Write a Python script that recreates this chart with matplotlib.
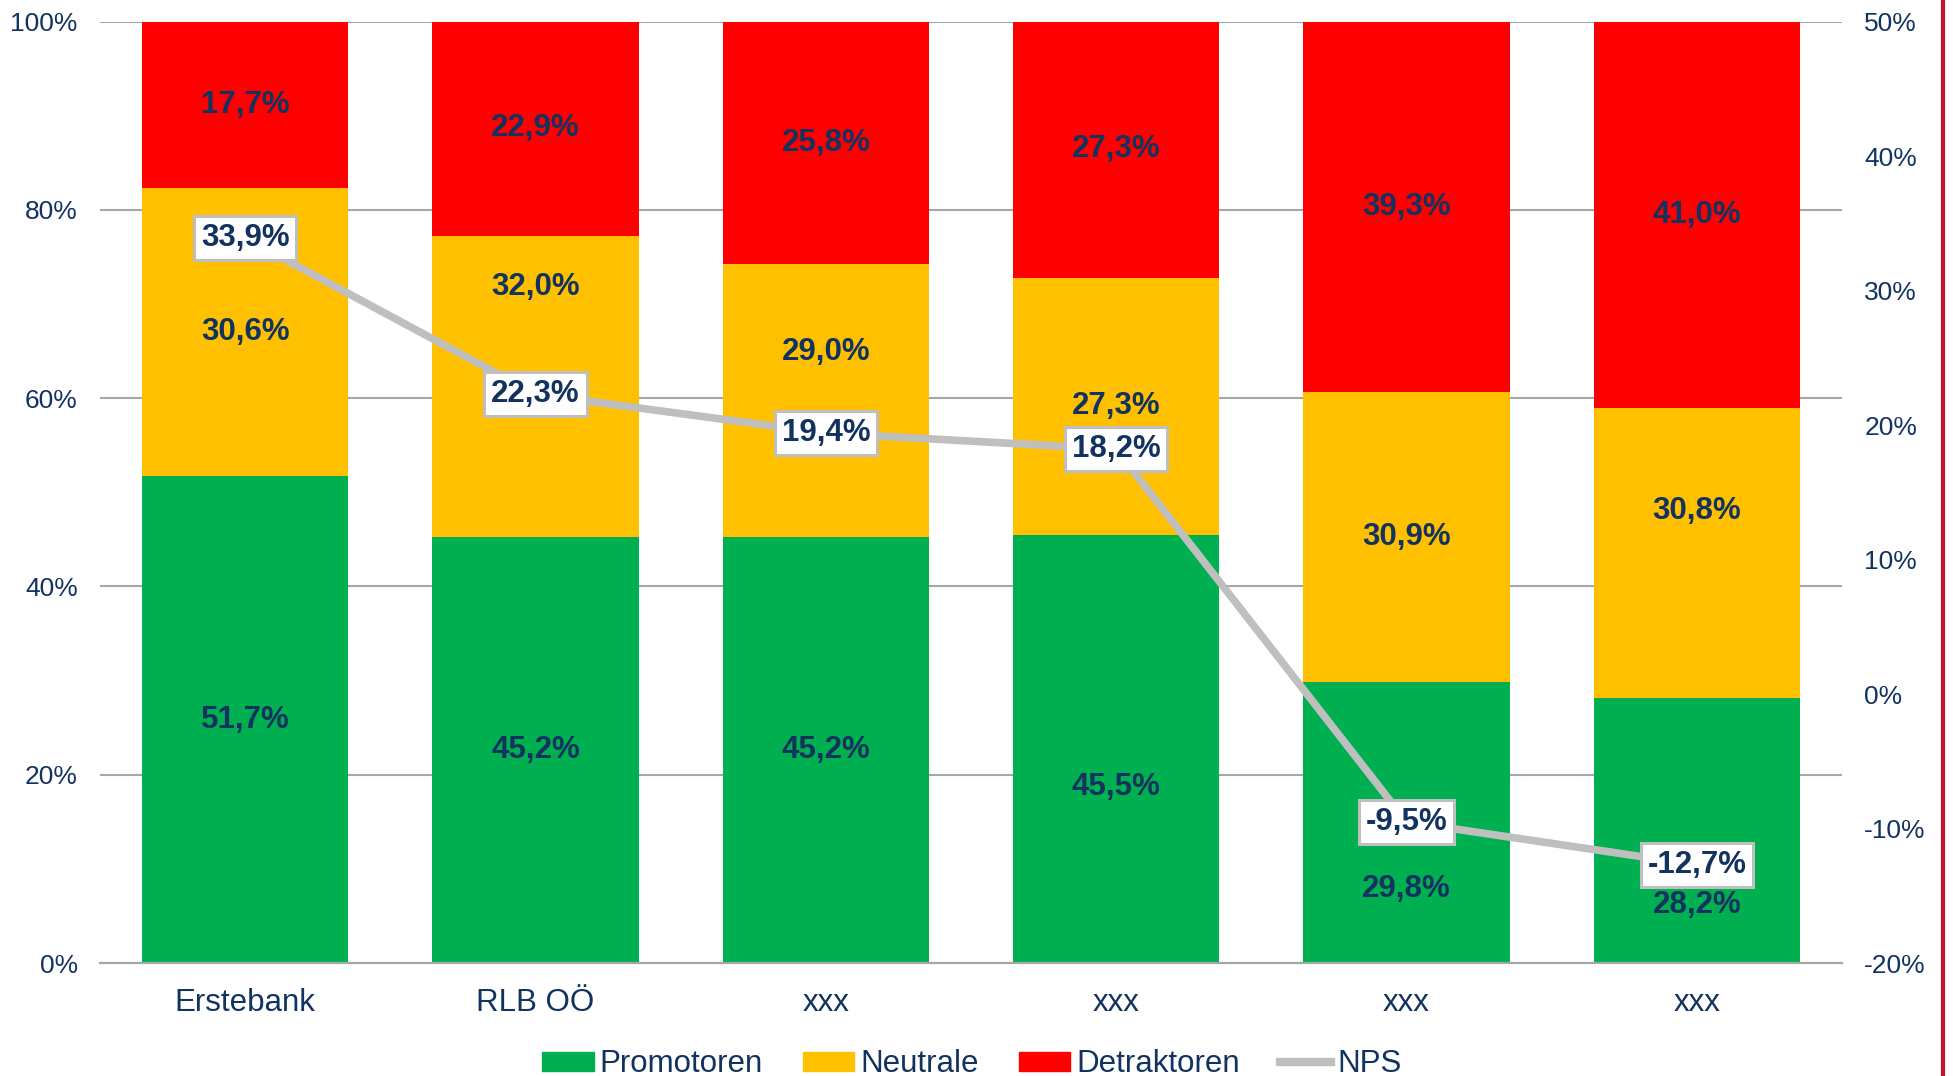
"""NPS-Vergleich: gestapelte Balken (Promotoren / Neutrale / Detraktoren) plus NPS-Linie."""
import matplotlib

matplotlib.use("Agg")
import matplotlib.pyplot as plt  # noqa: E402
from matplotlib.lines import Line2D  # noqa: E402
from matplotlib.patches import Patch  # noqa: E402
from matplotlib.ticker import FuncFormatter  # noqa: E402

# Daten
banks = ["Erstebank", "RLB OÖ", "xxx", "xxx", "xxx", "xxx"]
promotoren = [51.7, 45.2, 45.2, 45.5, 29.8, 28.2]
neutrale = [30.6, 32.0, 29.0, 27.3, 30.9, 30.8]
detraktoren = [17.7, 22.9, 25.8, 27.3, 39.3, 41.0]
nps = [33.9, 22.3, 19.4, 18.2, -9.5, -12.7]

# Farben
C_PROMO, C_NEUTRAL, C_DETRAK, C_NPS = "#00B050", "#FFC000", "#FF0000", "#BFBFBF"
TXT = "#12325F"
FONT = ["Liberation Sans", "DejaVu Sans"]

plt.rcParams["font.family"] = FONT

# Einige Label wurden im Original verschoben, damit sie nicht mit den NPS-Boxen kollidieren
promo_label_shift = [0, 0, 0, -4.1, -7.0, -7.9]
neutral_label_shift = [0, 10.6, 5.2, 0, 0, 4.4]


def pct(v):
    return f"{v:.1f}%".replace(".", ",")


fig = plt.figure(figsize=(19.53, 10.76), dpi=100)
ax = fig.add_axes([0.0512, 0.105, 0.8920, 0.875])
ax2 = ax.twinx()

x = list(range(len(banks)))
w = 0.71
ax.bar(x, promotoren, w, color=C_PROMO, zorder=2)
ax.bar(x, neutrale, w, bottom=promotoren, color=C_NEUTRAL, zorder=2)
bottom_d = [p + n for p, n in zip(promotoren, neutrale)]
ax.bar(x, detraktoren, w, bottom=bottom_d, color=C_DETRAK, zorder=2)

lbl_kw = dict(ha="center", va="center", fontsize=22.5, fontweight="bold", color=TXT)
for i in x:
    ax.text(i, promotoren[i] / 2 + promo_label_shift[i], pct(promotoren[i]), **lbl_kw)
    ax.text(i, promotoren[i] + neutrale[i] / 2 + neutral_label_shift[i], pct(neutrale[i]), **lbl_kw)
    ax.text(i, bottom_d[i] + detraktoren[i] / 2, pct(detraktoren[i]), **lbl_kw)

ax.set_xlim(-0.5, len(banks) - 0.5)
ax.set_ylim(0, 100)
ax.set_yticks(range(0, 101, 20))
ax.yaxis.set_major_formatter(FuncFormatter(lambda v, _: f"{v:.0f}%"))
ax.grid(axis="y", color="#A6A6A6", linewidth=1.5, zorder=0)
ax.set_axisbelow(True)
ax.set_xticks(x)
ax.set_xticklabels(banks)

# NPS-Linie auf der rechten Achse
ax2.plot(x, nps, color=C_NPS, linewidth=5.5, zorder=3, solid_capstyle="butt")
for i in x:
    ax2.text(i, nps[i], pct(nps[i]), ha="center", va="center",
             fontsize=22.5, fontweight="bold", color=TXT, zorder=4,
             bbox=dict(boxstyle="square,pad=0.22", facecolor="white",
                       edgecolor=C_NPS, linewidth=2.2))
ax2.set_ylim(-20, 50)
ax2.set_yticks(range(-20, 51, 10))
ax2.yaxis.set_major_formatter(FuncFormatter(lambda v, _: f"{v:.0f}%"))

for a in (ax, ax2):
    for side in ("top", "left", "right"):
        a.spines[side].set_visible(False)
    a.spines["bottom"].set_color("#A6A6A6")
    a.spines["bottom"].set_linewidth(1.5)
    a.tick_params(axis="both", length=0, labelsize=19, labelcolor=TXT)
    a.tick_params(axis="y", pad=16)
ax.tick_params(axis="x", pad=18, labelsize=22.5)
ax.set_zorder(ax2.get_zorder() - 1)
ax2.patch.set_visible(False)

# Legende
handles = [Patch(color=C_PROMO, label="Promotoren"),
           Patch(color=C_NEUTRAL, label="Neutrale"),
           Patch(color=C_DETRAK, label="Detraktoren"),
           Line2D([], [], color=C_NPS, linewidth=6, label="NPS")]
fig.legend(handles=handles, loc="center", bbox_to_anchor=(0.4977, 0.011), ncol=4,
           frameon=False, prop=dict(size=22.5), labelcolor=TXT,
           handlelength=1.65, handleheight=0.55, handletextpad=0.2,
           columnspacing=1.27, borderaxespad=0, borderpad=0)

# roter Rand rechts
fig.add_artist(Line2D([0.9951, 0.9951], [0, 1], transform=fig.transFigure,
                      color="#C8102E", linewidth=3))

fig.savefig("out.png", dpi=100)
